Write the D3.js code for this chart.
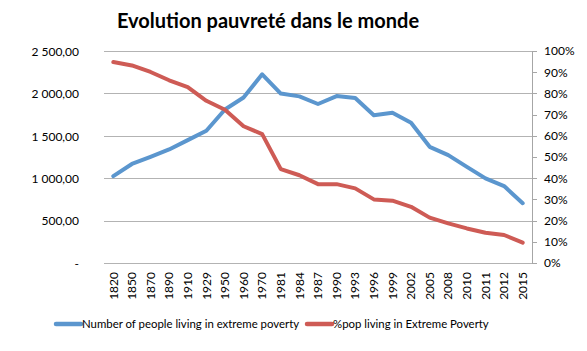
<!doctype html>
<html>
<head>
  <meta charset="utf-8">
  <style type="text/css">
    body { margin: 0; background: #fff; }
    svg { display: block; }
    text { font-family: Lato, "Open Sans", sans-serif; fill: #000; }
    .grid line { stroke: #b3b3b3; stroke-width: 1; shape-rendering: crispEdges; }
    .axis path, .axis line { fill: none; stroke: #a6a6a6; shape-rendering: crispEdges; }
    .axis text { font-size: 12px; }
  </style>
  <title>Evolution pauvreté dans le monde</title>
</head>
<body>
<svg class="chart"></svg>

<script type="text/javascript" src="https://cdnjs.cloudflare.com/ajax/libs/d3/7.8.5/d3.min.js"></script>
<script type="text/javascript">

var years = ["1820", "1850", "1870", "1890", "1910", "1929", "1950", "1960", "1970",
  "1981", "1984", "1987", "1990", "1993", "1996", "1999", "2002", "2005",
  "2008", "2010", "2011", "2012", "2015"];

// millions of people
var peopleValues = [1025, 1168, 1252, 1339, 1449, 1559, 1810, 1952, 2225,
  1998, 1965, 1875, 1968, 1945, 1743, 1772, 1655, 1370,
  1272, 1134, 998, 907, 705];

// share of world population (%)
var shareValues = [94.8, 93.2, 90.1, 86.2, 83.0, 76.5, 72.3, 64.5, 60.8,
  44.3, 41.4, 37.2, 37.2, 35.2, 30.0, 29.4, 26.5, 21.4,
  18.7, 16.3, 14.3, 13.2, 9.6];

var leftTicks = [0, 500, 1000, 1500, 2000, 2500];
var rightTicks = [0, 10, 20, 30, 40, 50, 60, 70, 80, 90, 100];

var seriesNames = ["Number of people living in extreme poverty", "%pop living in Extreme Poverty"];
var colors = ["#5B96CE", "#CE5B55"];

var width = 587, height = 351,
    margin = { top: 51, right: 55, bottom: 88, left: 104 },
    plotW = width - margin.left - margin.right,
    plotH = height - margin.top - margin.bottom;

var fr = d3.formatLocale({ decimal: ",", thousands: " ", grouping: [3], currency: ["", "€"] });
var leftFmt = function(d) { return d === 0 ? "-" : fr.format(",.2f")(d); };

var svg = d3.select(".chart")
  .attr("width", width)
  .attr("height", height);

svg.append("text")
  .attr("x", 268)
  .attr("y", 28)
  .attr("text-anchor", "middle")
  .style("font-size", "20px")
  .style("font-weight", "bold")
  .text("Evolution pauvreté dans le monde");

var chart = svg.append("g")
  .attr("transform", "translate(" + margin.left + "," + margin.top + ")");

var x = d3.scaleBand().domain(years).range([0, plotW]);
var yLeft = d3.scaleLinear().domain([0, 2500]).range([plotH, 0]);
var yRight = d3.scaleLinear().domain([0, 100]).range([plotH, 0]);

// horizontal gridlines
chart.append("g")
  .attr("class", "grid")
  .selectAll("line")
  .data(leftTicks)
  .join("line")
    .attr("x1", 0)
    .attr("x2", plotW)
    .attr("y1", function(d) { return Math.round(yLeft(d)) + 0.5; })
    .attr("y2", function(d) { return Math.round(yLeft(d)) + 0.5; });

// left axis: labels only
var la = chart.append("g")
  .attr("class", "axis")
  .call(d3.axisLeft(yLeft).tickValues(leftTicks).tickFormat(leftFmt).tickSize(0).tickPadding(25));
la.select(".domain").remove();
la.selectAll("text").attr("dy", "0.35em");

// right axis
var ra = chart.append("g")
  .attr("class", "axis")
  .attr("transform", "translate(" + plotW + ",0)")
  .call(d3.axisRight(yRight).tickValues(rightTicks)
    .tickFormat(function(d) { return d + "%"; })
    .tickSize(5).tickSizeOuter(0).tickPadding(7));

// bottom axis
var ba = chart.append("g")
  .attr("class", "axis")
  .attr("transform", "translate(0," + plotH + ")")
  .call(d3.axisBottom(x).tickSize(0).tickPadding(0));
ba.select(".domain").remove();
ba.selectAll("text")
  .attr("transform", "rotate(-90)")
  .attr("text-anchor", "end")
  .attr("x", -9)
  .attr("y", 0)
  .attr("dy", "0.35em");

var cx = function(d, i) { return x(years[i]) + x.bandwidth() / 2; };

var lineLeft = d3.line().x(cx).y(function(d) { return yLeft(d); });
var lineRight = d3.line().x(cx).y(function(d) { return yRight(d); });

chart.append("path")
  .datum(peopleValues)
  .attr("fill", "none")
  .attr("stroke", colors[0])
  .attr("stroke-width", 4)
  .attr("stroke-linejoin", "round")
  .attr("stroke-linecap", "round")
  .attr("d", lineLeft);

chart.append("path")
  .datum(shareValues)
  .attr("fill", "none")
  .attr("stroke", colors[1])
  .attr("stroke-width", 4)
  .attr("stroke-linejoin", "round")
  .attr("stroke-linecap", "round")
  .attr("d", lineRight);

// legend
var legendX = [56, 307];
var legend = svg.append("g").selectAll("g")
  .data(seriesNames)
  .join("g")
    .attr("transform", function(d, i) { return "translate(" + legendX[i] + ",324)"; });

legend.append("line")
  .attr("x1", 0).attr("x2", 25)
  .attr("stroke", function(d, i) { return colors[i]; })
  .attr("stroke-width", 4.5)
  .attr("stroke-linecap", "round");

legend.append("text")
  .attr("x", 26)
  .attr("dy", "0.35em")
  .style("font-size", "11.4px")
  .text(function(d) { return d; });

</script>
</body>
</html>
